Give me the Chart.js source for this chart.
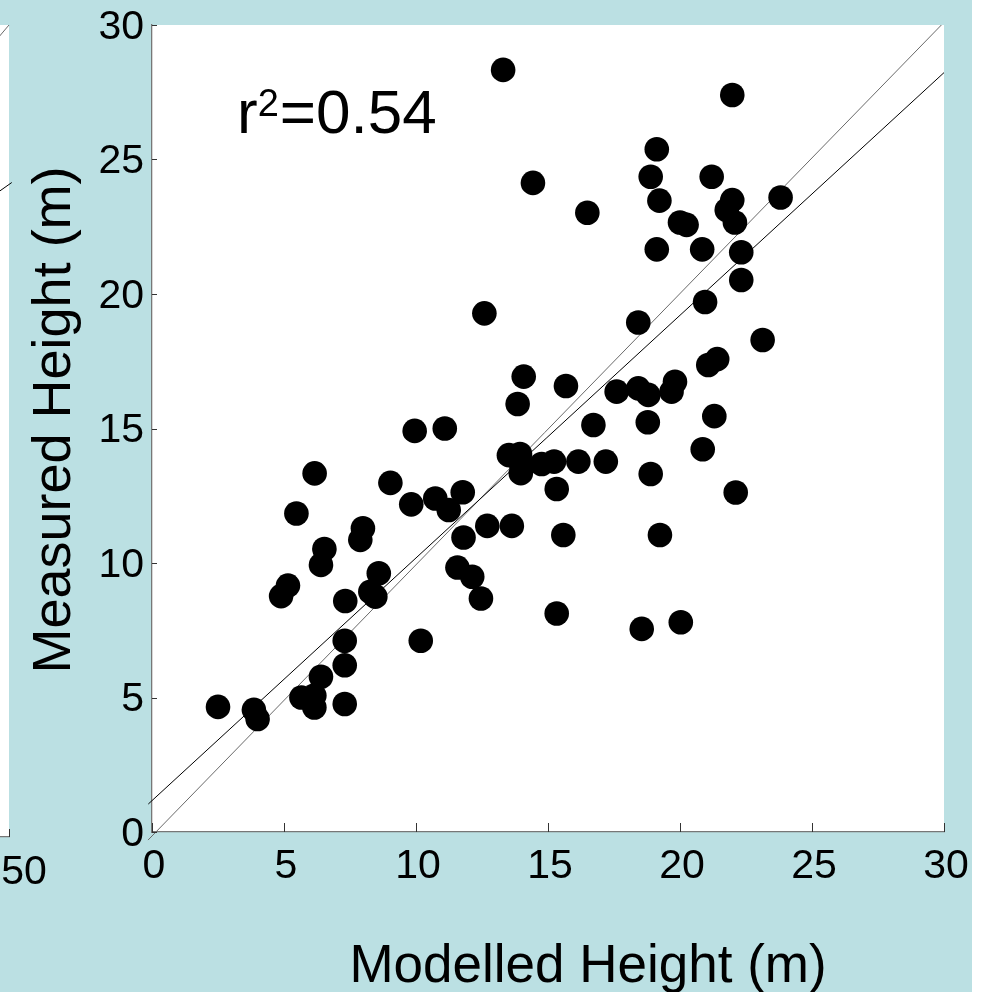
<!DOCTYPE html>
<html>
<head>
<meta charset="utf-8">
<title>Measured vs Modelled Height</title>
<script src="https://cdn.jsdelivr.net/npm/chart.js@4.4.1/dist/chart.umd.min.js"></script>
<style>
  html, body { margin: 0; padding: 0; background: #ffffff; }
  #stage { position: relative; width: 972px; height: 992px; background: #bbe0e3; overflow: hidden; }
  #stage canvas { position: absolute; top: 0; }
</style>
</head>
<body>
<div id="stage">
  <canvas id="side" width="800" height="992" style="left:-740px"></canvas>
  <canvas id="main" width="972" height="992" style="left:0"></canvas>
</div>
<script>
// Tree heights: model output (x) against field measurement (y), metres
const modelled = [
  2.5, 3.86, 4.0, 4.89, 5.15, 5.47, 5.66, 6.15, 6.15, 6.16,
  6.4, 6.4, 6.53, 7.3, 7.3, 7.3, 7.32, 7.89, 7.99, 8.27,
  8.46, 8.59, 9.03, 9.82, 9.95, 10.18, 10.73, 11.09, 11.24, 11.57,
  11.77, 11.8, 12.13, 12.46, 12.59, 12.7, 13.3, 13.52, 13.63, 13.85,
  13.94, 13.97, 13.97, 14.08, 14.43, 14.76, 15.23, 15.33, 15.33, 15.58,
  15.68, 16.15, 16.49, 16.72, 17.19, 17.6, 18.42, 18.42, 18.55, 18.78,
  18.8, 18.89, 18.89, 19.12, 19.12, 19.22, 19.24, 19.68, 19.81, 20.0,
  20.03, 20.25, 20.84, 20.86, 20.95, 21.07, 21.2, 21.3, 21.41, 21.77,
  21.98, 21.98, 22.08, 22.11, 22.32, 22.32, 23.13, 23.81
];
const measured = [
  4.65, 4.54, 4.2, 8.77, 9.16, 11.84, 5.0, 5.07, 4.63, 13.33,
  5.77, 9.93, 10.52, 4.76, 6.2, 7.11, 8.59, 10.86, 11.29, 8.93,
  8.75, 9.62, 12.98, 12.18, 14.91, 7.11, 12.4, 15.0, 11.97, 9.83,
  12.63, 10.95, 9.49, 8.68, 19.28, 11.38, 28.33, 14.01, 11.38, 15.91,
  14.05, 13.71, 13.34, 16.93, 24.13, 13.68, 13.77, 12.75, 8.12, 11.04,
  16.58, 13.77, 23.02, 15.13, 13.77, 16.37, 18.94, 16.49, 7.55, 15.23,
  16.25, 13.31, 24.36, 25.38, 21.66, 23.47, 11.04, 16.37, 16.74, 22.66,
  7.8, 22.57, 21.66, 14.23, 19.7, 17.36, 24.36, 15.46, 17.58, 23.12,
  27.4, 23.49, 22.66, 12.62, 21.55, 20.52, 18.29, 23.59
];

// Reference 1:1 line and fitted regression line (end points)
const oneToOneX = [-0.15, 29.9];
const oneToOneY = [-0.3, 30];
const fitX = [-0.14, 30];
const fitY = [1.04, 28.23];

const axisTicks = [0, 5, 10, 15, 20, 25, 30];
const fitLabel = { base: 'r', sup: '2', rest: '=0.54', x: 3.22, y: 26.0 };
const xTitle = 'Modelled Height (m)';
const yTitle = 'Measured Height (m)';

// Edge of the neighbouring panel on the same slide
const sideTicks = [0, 10, 20, 30, 40, 50];
const sideOneX = [0, 50];
const sideOneY = [0, 50];
const sideFitX = [0, 50.2];
const sideFitY = [10.2, 40.3];

const FAMILY = "'Liberation Sans', Arial, Helvetica, sans-serif";
Chart.defaults.font.family = FAMILY;
Chart.defaults.color = '#000';

const pairs = (xs, ys) => xs.map((x, i) => ({ x: x, y: ys[i] }));

// white plotting area
const plotBackground = {
  id: 'plotBackground',
  beforeDraw(chart) {
    const { ctx, chartArea: a } = chart;
    ctx.save();
    ctx.fillStyle = '#ffffff';
    ctx.fillRect(a.left, a.top, a.right - a.left, a.bottom - a.top);
    ctx.restore();
  }
};

// short tick marks pointing into the plotting area
const innerTicks = {
  id: 'innerTicks',
  afterDraw(chart, args, opts) {
    const { ctx, chartArea: a, scales } = chart;
    ctx.save();
    ctx.strokeStyle = opts.color || '#333';
    ctx.lineWidth = 1;
    ctx.beginPath();
    if (opts.x) {
      scales.x.ticks.forEach(t => {
        const px = Math.round(scales.x.getPixelForValue(t.value)) + 0.5;
        ctx.moveTo(px, a.bottom);
        ctx.lineTo(px, a.bottom - opts.x);
      });
    }
    if (opts.y) {
      scales.y.ticks.forEach(t => {
        const py = Math.round(scales.y.getPixelForValue(t.value)) + 0.5;
        ctx.moveTo(a.left, py);
        ctx.lineTo(a.left + opts.y, py);
      });
    }
    ctx.stroke();
    ctx.restore();
  }
};

// axis titles and the r² annotation
const chartText = {
  id: 'chartText',
  afterDraw(chart) {
    const { ctx, chartArea: a, scales } = chart;
    ctx.save();
    ctx.fillStyle = '#000';
    ctx.textBaseline = 'alphabetic';

    // r² = 0.54
    ctx.textAlign = 'left';
    let px = scales.x.getPixelForValue(fitLabel.x);
    const py = scales.y.getPixelForValue(fitLabel.y);
    ctx.font = '62px ' + FAMILY;
    ctx.fillText(fitLabel.base, px, py);
    px += ctx.measureText(fitLabel.base).width;
    ctx.font = '38px ' + FAMILY;
    ctx.fillText(fitLabel.sup, px, py - 17);
    px += ctx.measureText(fitLabel.sup).width + 1;
    ctx.font = '62px ' + FAMILY;
    ctx.fillText(fitLabel.rest, px, py);

    // x axis title
    ctx.textAlign = 'center';
    ctx.font = '53px ' + FAMILY;
    ctx.fillText(xTitle, a.left + 436, a.bottom + 150);

    // y axis title
    ctx.save();
    ctx.font = '54px ' + FAMILY;
    ctx.translate(a.left - 82, a.top + 395);
    ctx.rotate(-Math.PI / 2);
    ctx.fillText(yTitle, 0, 0);
    ctx.restore();

    ctx.restore();
  }
};

const axisBorder = { display: true, color: '#777777', width: 1.3 };
const noGrid = { display: false, drawTicks: false };

// keep the plotting area exactly inside the layout padding
function fixWidth(w) {
  return s => { s.width = w; s.paddingTop = 0; s.paddingBottom = 0; };
}
function fixHeight(h) {
  return s => { s.height = h; s.paddingLeft = 0; s.paddingRight = 0; };
}

new Chart(document.getElementById('main'), {
  type: 'scatter',
  data: {
    datasets: [
      {
        label: 'Plots',
        data: pairs(modelled, measured),
        pointRadius: 12.3,
        pointHoverRadius: 12.3,
        pointBackgroundColor: '#000000',
        pointBorderWidth: 0,
        pointBorderColor: '#000000'
      },
      {
        label: 'Regression',
        data: pairs(fitX, fitY),
        showLine: true,
        pointRadius: 0,
        borderColor: '#000000',
        borderWidth: 1,
        clip: false
      },
      {
        label: '1:1',
        data: pairs(oneToOneX, oneToOneY),
        showLine: true,
        pointRadius: 0,
        borderColor: '#6a6a6a',
        borderWidth: 1,
        clip: false
      }
    ]
  },
  options: {
    responsive: false,
    animation: false,
    devicePixelRatio: 1,
    events: [],
    layout: { padding: { top: 25, right: 28, left: 0, bottom: 0 } },
    plugins: {
      legend: { display: false },
      tooltip: { enabled: false },
      innerTicks: { x: 9, y: 5, color: '#333333' }
    },
    scales: {
      x: {
        type: 'linear',
        min: 0,
        max: 30,
        afterFit: fixHeight(160),
        afterBuildTicks(s) { s.ticks = axisTicks.map(v => ({ value: v })); },
        grid: noGrid,
        border: axisBorder,
        ticks: { padding: 10, labelOffset: 2, font: { size: 41 }, color: '#000', maxRotation: 0, autoSkip: false }
      },
      y: {
        type: 'linear',
        min: 0,
        max: 30,
        afterFit: fixWidth(152),
        afterBuildTicks(s) { s.ticks = axisTicks.map(v => ({ value: v })); },
        grid: noGrid,
        border: axisBorder,
        ticks: { padding: 8, labelOffset: 2.5, font: { size: 41 }, color: '#000', autoSkip: false }
      }
    }
  },
  plugins: [plotBackground, innerTicks, chartText]
});

new Chart(document.getElementById('side'), {
  type: 'scatter',
  data: {
    datasets: [
      {
        label: 'Regression',
        data: pairs(sideFitX, sideFitY),
        showLine: true,
        pointRadius: 0,
        borderColor: '#000000',
        borderWidth: 1,
        clip: false
      },
      {
        label: '1:1',
        data: pairs(sideOneX, sideOneY),
        showLine: true,
        pointRadius: 0,
        borderColor: '#6a6a6a',
        borderWidth: 1,
        clip: false
      }
    ]
  },
  options: {
    responsive: false,
    animation: false,
    devicePixelRatio: 1,
    events: [],
    layout: { padding: { top: 25, right: 51, left: 0, bottom: 0 } },
    plugins: {
      legend: { display: false },
      tooltip: { enabled: false },
      innerTicks: { x: 8, y: 0, color: '#333333' }
    },
    scales: {
      x: {
        type: 'linear',
        min: 0,
        max: 50,
        afterFit: fixHeight(155),
        afterBuildTicks(s) { s.ticks = sideTicks.map(v => ({ value: v })); },
        grid: noGrid,
        border: axisBorder,
        ticks: { padding: 11, labelOffset: 15, font: { size: 41 }, color: '#000', maxRotation: 0, autoSkip: false }
      },
      y: {
        type: 'linear',
        min: 0,
        max: 50,
        afterFit: fixWidth(60),
        grid: noGrid,
        border: { display: false },
        ticks: { display: false }
      }
    }
  },
  plugins: [plotBackground, innerTicks]
});
</script>
</body>
</html>
